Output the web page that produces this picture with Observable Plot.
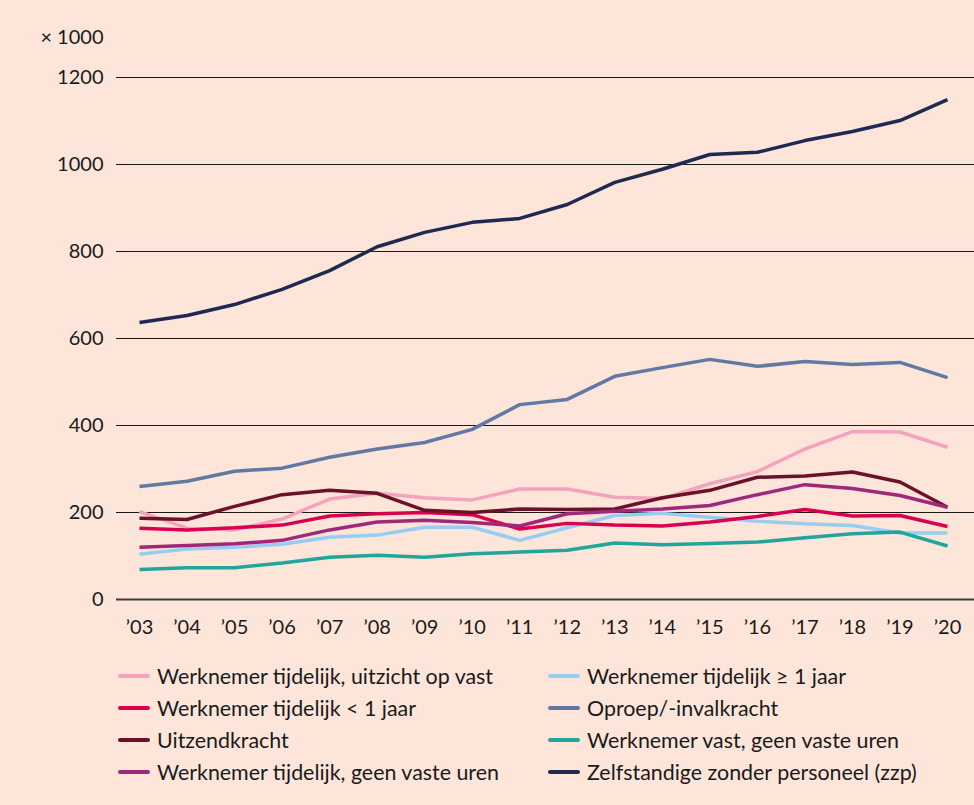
<!DOCTYPE html>
<html>
<head>
<meta charset="utf-8">
<script src="https://cdn.jsdelivr.net/npm/d3@7"></script>
<script src="https://cdn.jsdelivr.net/npm/@observablehq/plot@0.6"></script>
<style>
  html, body { margin: 0; padding: 0; background: #fde5da; }
  body { width: 974px; height: 805px; overflow: hidden; font-family: Lato, "Open Sans", sans-serif; color: #1a1a1a; }
  #chart svg { display: block; background: #fde5da; }
  #legend { display: grid; grid-template-columns: 430px 420px; margin-left: 118px; margin-top: 13px; row-gap: 6px; }
  .item { display: flex; align-items: center; height: 26px; font-size: 21.4px; }
  .sw { width: 32px; height: 4px; border-radius: 2px; margin-right: 7px; }
</style>
</head>
<body>
<div id="chart"></div>
<div id="legend"></div>
<script>
const years = [2003,2004,2005,2006,2007,2008,2009,2010,2011,2012,2013,2014,2015,2016,2017,2018,2019,2020];
const yearLabels = ["’03","’04","’05","’06","’07","’08","’09","’10","’11","’12","’13","’14","’15","’16","’17","’18","’19","’20"];
const yTicks = [0, 200, 400, 600, 800, 1000, 1200];

const uitzichtOpVast   = [202,164,160,185,231,244,234,229,254,254,235,232,266,294,346,386,385,350];
const tijdelijkGe1     = [104,116,120,127,143,148,166,166,136,165,193,198,189,180,174,170,153,153];
const tijdelijkLt1     = [164,160,165,171,192,197,200,195,162,175,171,169,178,191,207,192,193,168];
const oproep           = [260,272,295,302,327,346,361,391,448,460,513,533,552,536,547,540,545,510];
const uitzend          = [187,184,214,241,251,244,205,200,208,207,208,234,251,281,284,293,270,212];
const vastGeenUren     = [69,73,73,84,97,102,97,105,109,113,130,126,129,132,142,151,155,123];
const tijdelijkGeenUren= [120,124,128,136,160,178,182,177,169,197,203,208,216,241,264,255,239,212];
const zzp              = [637,653,678,713,756,811,844,867,876,908,959,989,1023,1028,1055,1076,1101,1149];

const series = [
  {name: "Werknemer tijdelijk, uitzicht op vast", color: "#f4a3be", values: uitzichtOpVast},
  {name: "Werknemer tijdelijk ≥ 1 jaar", color: "#96cdf0", values: tijdelijkGe1},
  {name: "Werknemer tijdelijk < 1 jaar", color: "#d9004f", values: tijdelijkLt1},
  {name: "Oproep/-invalkracht", color: "#6279a6", values: oproep},
  {name: "Uitzendkracht", color: "#6b1129", values: uitzend},
  {name: "Werknemer vast, geen vaste uren", color: "#21a59c", values: vastGeenUren},
  {name: "Werknemer tijdelijk, geen vaste uren", color: "#a0287a", values: tijdelijkGeenUren},
  {name: "Zelfstandige zonder personeel (zzp)", color: "#1e2a52", values: zzp}
];

const data = series.flatMap(s => s.values.map((v, i) => ({series: s.name, year: years[i], value: v})));

const plot = Plot.plot({
  width: 974,
  height: 650,
  marginLeft: 116,
  marginRight: 0,
  marginTop: 77,
  marginBottom: 51,
  insetLeft: 23,
  insetRight: 27,
  style: {fontFamily: "Lato, 'Open Sans', sans-serif", fontSize: "20px", color: "#1a1a1a", background: "#fde5da"},
  x: {domain: [2003, 2020], ticks: years, tickFormat: d => yearLabels[years.indexOf(d)], tickSize: 0, tickPadding: 20, label: null},
  y: {domain: [0, 1200], ticks: yTicks, tickSize: 0, tickPadding: 13, tickFormat: d => String(d), label: null},
  color: {domain: series.map(s => s.name), range: series.map(s => s.color)},
  marks: [
    Plot.ruleY(yTicks.filter(d => d > 0), {stroke: "#1a1a1a", strokeWidth: 1}),
    Plot.ruleY([0], {stroke: "#3a3a3a", strokeWidth: 2}),
    Plot.line(data, {x: "year", y: "value", z: "series", stroke: "series", strokeWidth: 3.5, strokeLinejoin: "miter", strokeLinecap: "butt"}),
    Plot.text(["× 1000"], {frameAnchor: "top-left", lineAnchor: "middle", dx: -13, dy: -40, textAnchor: "end", fontSize: 20, fill: "#1a1a1a"})
  ]
});
document.getElementById("chart").appendChild(plot);

const legend = document.getElementById("legend");
series.forEach(s => {
  const div = document.createElement("div");
  div.className = "item";
  div.innerHTML = `<span class="sw" style="background:${s.color}"></span><span>${s.name}</span>`;
  legend.appendChild(div);
});
</script>
</body>
</html>
